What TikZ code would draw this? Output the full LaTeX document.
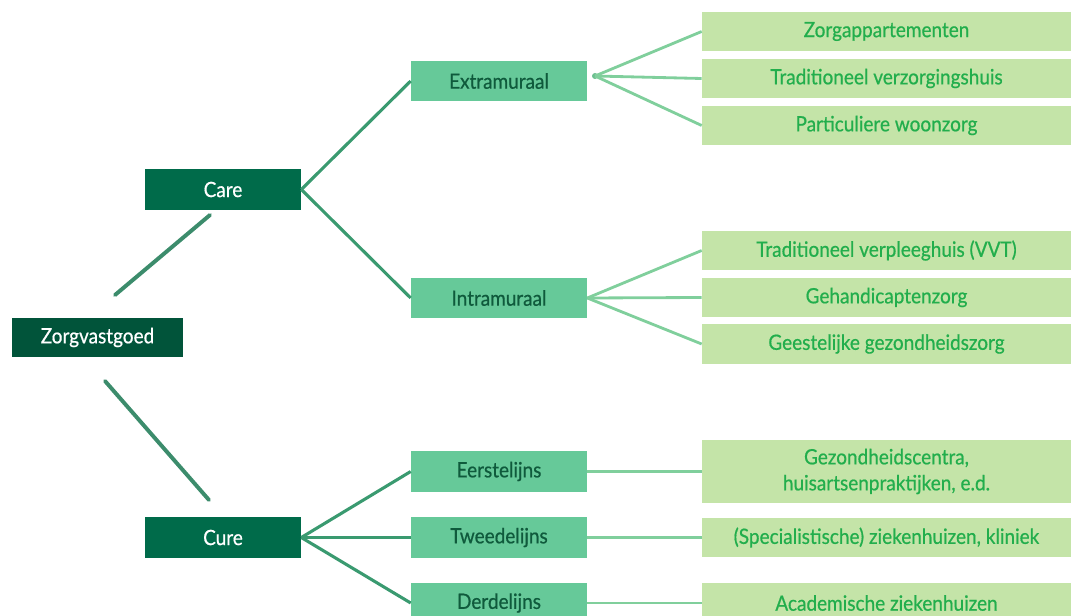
\documentclass[tikz,border=0pt]{standalone}
\usepackage{fontspec}
\setmainfont[FakeStretch=0.9,FakeBold=0.6]{Lato}
\usetikzlibrary{shapes}

\definecolor{zvgreen}{HTML}{01543A}
\definecolor{ccgreen}{HTML}{006B4A}
\definecolor{midgreen}{HTML}{66C999}
\definecolor{midtext}{HTML}{0F5A3C}
\definecolor{leafgreen}{HTML}{C4E4A8}
\definecolor{leaftext}{HTML}{22AE4C}
\definecolor{trunkline}{HTML}{3C8C6C}
\definecolor{careline}{HTML}{3A9A70}
\definecolor{leafline}{HTML}{80CF9C}

\begin{document}
\begin{tikzpicture}[x=0.025cm,y=-0.025cm,
	font=\fontsize{15}{18.5}\selectfont,
	zvbox/.style={rectangle,fill=zvgreen,text=white,inner sep=0pt,minimum width=4.275cm,minimum height=0.975cm},
	ccbox/.style={rectangle,fill=ccgreen,text=white,inner sep=0pt,minimum width=3.9cm,minimum height=1cm},
	midbox/.style={rectangle,fill=midgreen,text=midtext,inner sep=0pt,minimum width=4.4cm,minimum height=1cm},
	leafbox/.style={rectangle,fill=leafgreen,text=leaftext,inner sep=0pt,minimum width=9.225cm,minimum height=0.975cm,align=center},
	trunk/.style={draw=trunkline,line width=2.8pt,line cap=round},
	branch/.style={draw=careline,line width=2.2pt},
	twig/.style={draw=leafline,line width=2pt}]
	\useasboundingbox (0,0) rectangle (1072,616);

	\node[zvbox] (zv) at (97.5,337.5) {Zorgvastgoed};
	\node[ccbox] (care) at (223,189.5) {Care};
	\node[ccbox] (cure) at (223,537.5) {Cure};

	\node[midbox] (extra) at (499,81) {Extramuraal};
	\node[midbox] (intra) at (499,298) {Intramuraal};
	\node[midbox] (eerst) at (499,471.5) {Eerstelijns};
	\node[midbox] (tweed) at (499,537.5) {Tweedelijns};
	\node[midbox] (derde) at (499,603) {Derdelijns};

	\node[leafbox] (ex1) at (886.5,31.5) {Zorgappartementen};
	\node[leafbox] (ex2) at (886.5,78.5) {Traditioneel verzorgingshuis};
	\node[leafbox] (ex3) at (886.5,125.5) {Particuliere woonzorg};
	\node[leafbox] (in1) at (886.5,250.5) {Traditioneel verpleeghuis (VVT)};
	\node[leafbox] (in2) at (886.5,297.5) {Gehandicaptenzorg};
	\node[leafbox] (in3) at (886.5,344) {Geestelijke gezondheidszorg};
	\node[leafbox,minimum height=1.575cm] (cu1) at (886.5,471.5) {Gezondheidscentra,\\huisartsenpraktijken, e.d.};
	\node[leafbox] (cu2) at (886.5,537.5) {(Specialistische) ziekenhuizen, kliniek};
	\node[leafbox] (cu3) at (886.5,603) {Academische ziekenhuizen};

	\coordinate (zvtop) at (115,295);
	\coordinate (caredn) at (210,215);
	\coordinate (zvbot) at (105,381);
	\coordinate (cureup) at (209,500);
	\coordinate (extrapt) at (595,76);

	\path[trunk] (zvtop) -- (caredn);
	\path[trunk] (zvbot) -- (cureup);

	\path[branch] (care.east) -- (extra.west);
	\path[branch] (care.east) -- (intra.west);
	\path[branch] (cure.east) -- (eerst.west);
	\path[branch] (cure.east) -- (tweed.west);
	\path[branch] (cure.east) -- (derde.west);

	\fill[leafline!70!careline] (extrapt) circle (3);
	\path[twig] (extrapt) -- (ex1.west);
	\path[twig] (extrapt) -- (ex2.west);
	\path[twig] (extrapt) -- (ex3.west);
	\path[twig] (intra.east) -- (in1.west);
	\path[twig] (intra.east) -- (in2.west);
	\path[twig] (intra.east) -- (in3.west);
	\path[twig] (eerst.east) -- (cu1.west);
	\path[twig] (tweed.east) -- (cu2.west);
	\path[twig] (derde.east) -- (cu3.west);
\end{tikzpicture}
\end{document}
